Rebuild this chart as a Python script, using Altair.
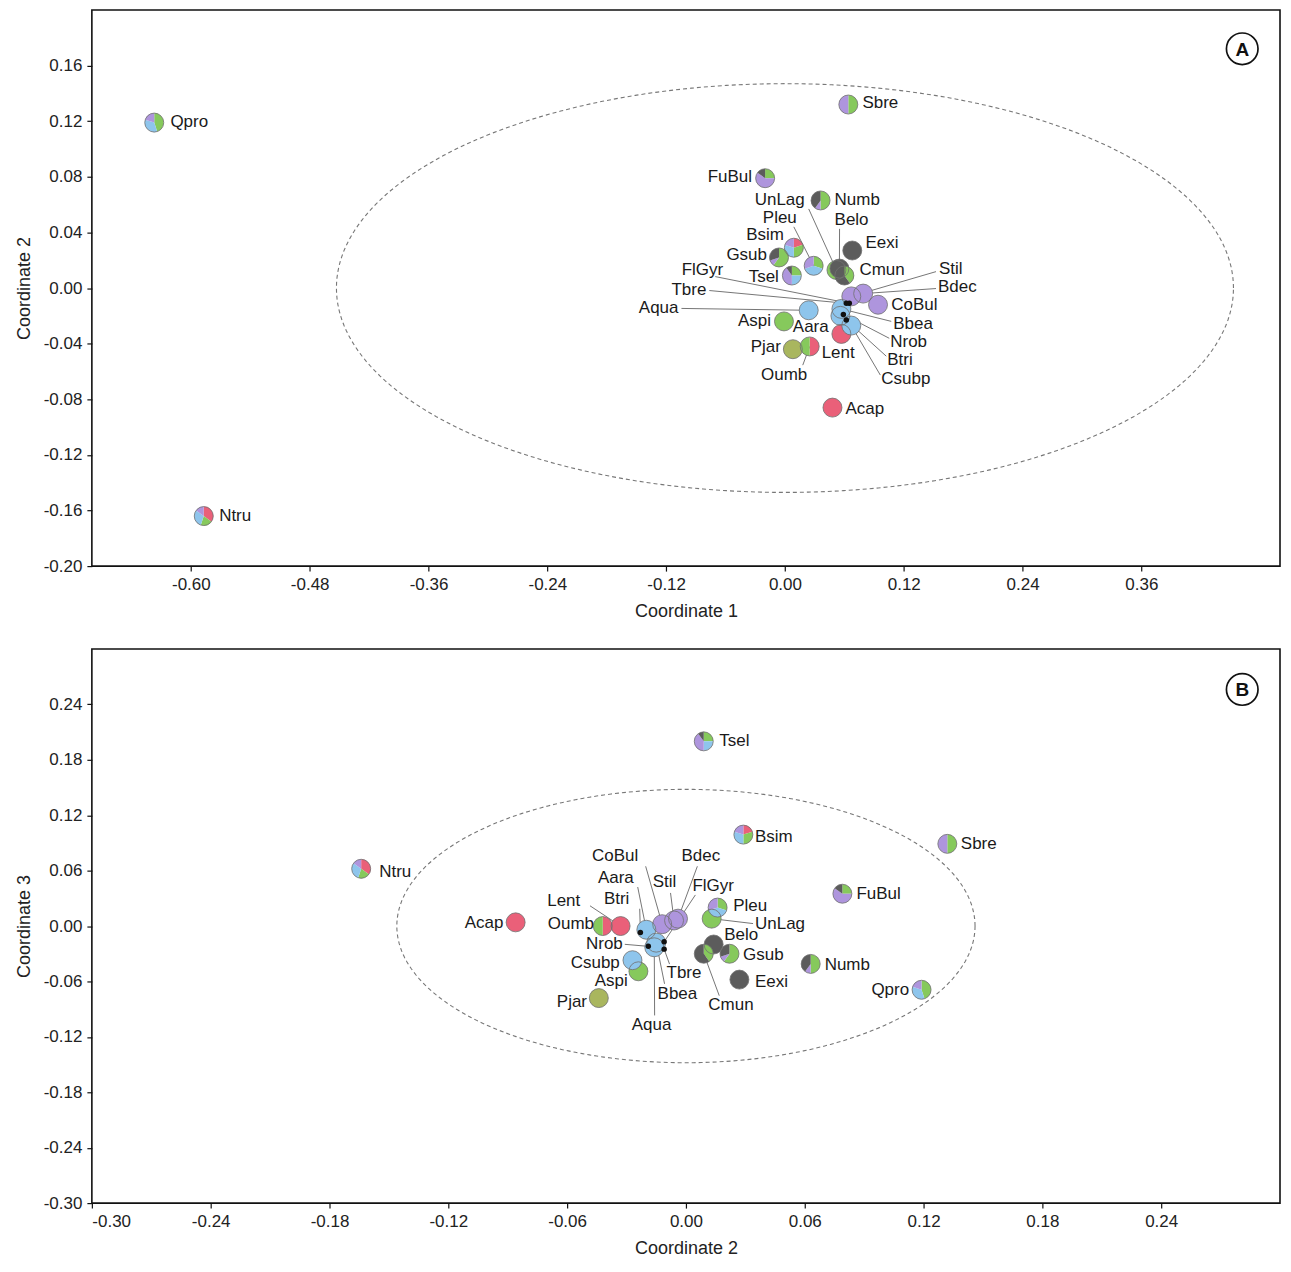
import altair as alt
import pandas as pd
import numpy as np

# ---------------- data ----------------
SPECIES = ["Qpro", "Ntru", "Sbre", "FuBul", "Numb", "UnLag", "Pleu", "Belo", "Bsim", "Eexi",
           "Gsub", "Cmun", "FlGyr", "Tsel", "Stil", "Bdec", "Tbre", "CoBul", "Aqua", "Aspi",
           "Bbea", "Aara", "Nrob", "Pjar", "Lent", "Btri", "Oumb", "Csubp", "Acap"]
COORD1 = [-0.637, -0.587, 0.064, -0.020, 0.036, 0.052, 0.029, 0.055, 0.009, 0.068,
          -0.006, 0.060, 0.065, 0.007, 0.067, 0.079, 0.062, 0.094, 0.024, -0.001,
          0.057, 0.056, 0.059, 0.008, 0.057, 0.062, 0.025, 0.067, 0.048]
COORD2 = [0.119, -0.164, 0.132, 0.079, 0.063, 0.013, 0.016, 0.014, 0.029, 0.027,
          0.022, 0.009, -0.011, 0.009, -0.006, -0.004, -0.011, -0.012, -0.016, -0.024,
          -0.015, -0.020, -0.019, -0.044, -0.033, -0.023, -0.042, -0.027, -0.086]
COORD3 = [-0.069, 0.062, 0.089, 0.035, -0.041, 0.008, 0.020, -0.020, 0.099, -0.058,
          -0.030, -0.030, -0.017, 0.200, 0.006, 0.008, -0.025, 0.002, -0.023, -0.049,
          -0.018, -0.004, -0.022, -0.078, 0.000, -0.007, 0.000, -0.037, 0.004]

GROUPS = ["g1", "g2", "g3", "g4", "g5", "g6"]
GROUP_COLORS = ["#ea6079", "#86c95c", "#8ec5ec", "#ae95dd", "#5c5c5c", "#a9b65e"]
COMPOSITION = {
    "Qpro": [0, .45, .35, .20, 0, 0], "Ntru": [.35, .20, .30, .15, 0, 0],
    "Sbre": [0, .50, 0, .50, 0, 0], "FuBul": [0, .25, 0, .60, .15, 0],
    "Numb": [0, .50, 0, .10, .40, 0], "UnLag": [0, 1, 0, 0, 0, 0],
    "Pleu": [0, .30, .40, .30, 0, 0], "Belo": [0, 0, 0, 0, 1, 0],
    "Bsim": [.20, .30, .30, .20, 0, 0], "Eexi": [0, 0, 0, 0, 1, 0],
    "Gsub": [0, .60, 0, .10, .30, 0], "Cmun": [0, .40, 0, 0, .60, 0],
    "FlGyr": [0, 0, 1, 0, 0, 0], "Tsel": [0, .25, .25, .40, .10, 0],
    "Stil": [0, 0, 0, 1, 0, 0], "Bdec": [0, 0, 0, 1, 0, 0],
    "Tbre": [0, 0, 1, 0, 0, 0], "CoBul": [0, 0, 0, 1, 0, 0],
    "Aqua": [0, 0, 1, 0, 0, 0], "Aspi": [0, 1, 0, 0, 0, 0],
    "Bbea": [0, 0, 1, 0, 0, 0], "Aara": [0, 0, 1, 0, 0, 0],
    "Nrob": [0, 0, 1, 0, 0, 0], "Pjar": [0, 0, 0, 0, 0, 1],
    "Lent": [1, 0, 0, 0, 0, 0], "Btri": [0, 0, 1, 0, 0, 0],
    "Oumb": [.50, .50, 0, 0, 0, 0], "Csubp": [0, 0, 1, 0, 0, 0],
    "Acap": [1, 0, 0, 0, 0, 0],
}
DOT_SPECIES = ["FlGyr", "Tbre", "Nrob", "Btri"]

# 95% ellipses: (centre x, centre y, semi-axis x, semi-axis y)
ELLIPSE_A = (0.0, 0.0, 0.453, 0.147)
ELLIPSE_B = (0.0, 0.0, 0.146, 0.148)

A_XTICKS = [-0.60, -0.48, -0.36, -0.24, -0.12, 0.00, 0.12, 0.24, 0.36]
A_YTICKS = [-0.20, -0.16, -0.12, -0.08, -0.04, 0.00, 0.04, 0.08, 0.12, 0.16]
B_XTICKS = [-0.30, -0.24, -0.18, -0.12, -0.06, 0.00, 0.06, 0.12, 0.18, 0.24]
B_YTICKS = [-0.30, -0.24, -0.18, -0.12, -0.06, 0.00, 0.06, 0.12, 0.18, 0.24]

# ---------------- layout ----------------
W = 1190
HA = 557
HB = 555
A_DOM_X, A_DOM_Y = [-0.70, 0.50], [-0.20, 0.20]
B_DOM_X, B_DOM_Y = [-0.30, 0.30], [-0.30, 0.30]
FONT = "Liberation Sans"

# label placement, given in reference-figure pixels: x, y, align, leader start (or None)
REF_W = 1195
A_REF = (91, 9, 559)     # left, top, height of panel A frame in the reference figure
B_REF = (91, 653, 561)
LABELS_A = {
    "Qpro": (170, 122, "left", None), "Ntru": (219, 518, "left", None),
    "Sbre": (866, 103, "left", None), "FuBul": (755, 177, "right", None),
    "Numb": (838, 200, "left", None), "UnLag": (808, 200, "right", (812, 209)),
    "Pleu": (800, 218, "right", (797, 227)), "Belo": (838, 220, "left", (843, 229)),
    "Bsim": (787, 235, "right", None), "Eexi": (869, 243, "left", None),
    "Gsub": (770, 255, "right", None), "Cmun": (863, 270, "left", None),
    "FlGyr": (726, 270, "right", (718, 277)), "Tsel": (782, 277, "right", None),
    "Stil": (943, 269, "left", (940, 272)), "Bdec": (942, 287, "left", (940, 289)),
    "Tbre": (709, 290, "right", (712, 291)), "CoBul": (895, 306, "left", None),
    "Aqua": (681, 309, "right", (684, 309)), "Aspi": (774, 322, "right", None),
    "Bbea": (897, 325, "left", (895, 322)), "Aara": (796, 328, "left", None),
    "Nrob": (894, 343, "left", (893, 339)), "Pjar": (784, 348, "right", None),
    "Lent": (825, 354, "left", None), "Btri": (891, 361, "left", (890, 357)),
    "Oumb": (764, 376, "left", (806, 366)), "Csubp": (885, 380, "left", (884, 376)),
    "Acap": (849, 410, "left", None),
}
LABELS_B = {
    "Tsel": (722, 746, "left", None), "Bsim": (758, 843, "left", None),
    "Sbre": (965, 850, "left", None), "Ntru": (380, 879, "left", None),
    "FuBul": (860, 901, "left", None),
    "CoBul": (594, 863, "left", (648, 873)), "Bdec": (684, 863, "left", (700, 873)),
    "Aara": (600, 885, "left", (640, 894)), "Stil": (655, 889, "left", (673, 900)),
    "FlGyr": (695, 893, "left", (698, 902)), "Lent": (549, 908, "left", (592, 913)),
    "Btri": (606, 906, "left", (642, 916)), "Pleu": (736, 913, "left", None),
    "Acap": (505, 930, "right", None), "Oumb": (596, 931, "right", None),
    "UnLag": (758, 931, "left", (756, 931)), "Belo": (727, 943, "left", None),
    "Nrob": (625, 952, "right", (627, 952)), "Gsub": (746, 963, "left", None),
    "Csubp": (622, 971, "right", None), "Numb": (828, 973, "left", None),
    "Tbre": (669, 981, "left", (672, 972)), "Aspi": (630, 989, "right", None),
    "Eexi": (758, 990, "left", None), "Qpro": (913, 998, "right", None),
    "Bbea": (660, 1002, "left", (667, 992)), "Pjar": (589, 1010, "right", None),
    "Cmun": (711, 1013, "left", (722, 1004)), "Aqua": (634, 1034, "left", (657, 1024)),
}
LETTER_A = (1248, 48)
LETTER_B = (1248, 694)


def to_data(px, py, ref, domx, domy):
    x = domx[0] + (px - ref[0]) / REF_W * (domx[1] - domx[0])
    y = domy[1] - (py - ref[1]) / ref[2] * (domy[1] - domy[0])
    return x, y


pts = pd.DataFrame({"sp": SPECIES, "c1": COORD1, "c2": COORD2, "c3": COORD3})

pie_rows = []
for i, sp in enumerate(SPECIES):
    if sp in DOT_SPECIES:
        continue
    for k, f in enumerate(COMPOSITION[sp]):
        if f > 0:
            pie_rows.append({"sp": sp, "idx": i, "grp": GROUPS[k], "k": k, "frac": f,
                             "c1": COORD1[i], "c2": COORD2[i], "c3": COORD3[i]})
pies = pd.DataFrame(pie_rows)
pie_pts = pts[~pts.sp.isin(DOT_SPECIES)]
dot_pts = pts[pts.sp.isin(DOT_SPECIES)]


def label_frames(labels, ref, domx, domy, xcol, ycol):
    lab, lead = [], []
    lookup = pts.set_index("sp")
    for sp, (px, py, al, ls) in labels.items():
        lx, ly = to_data(px, py, ref, domx, domy)
        lab.append({"sp": sp, "lx": lx, "ly": ly, "al": al})
        if ls is not None:
            sx, sy = to_data(ls[0], ls[1], ref, domx, domy)
            lead.append({"sp": sp, "sx": sx, "sy": sy,
                         "ex": lookup.loc[sp, xcol], "ey": lookup.loc[sp, ycol]})
    return pd.DataFrame(lab), pd.DataFrame(lead)


def ellipse_df(e):
    t = np.linspace(0, 2 * np.pi, 241)
    return pd.DataFrame({"ex": e[0] + e[2] * np.cos(t), "ey": e[1] + e[3] * np.sin(t),
                         "o": np.arange(len(t))})


LABEL_EXPR = "replace(format(datum.value, '.2f'), '\u2212', '-')"


def panel(xcol, ycol, domx, domy, h, xticks, yticks, xtitle, ytitle, ell, labels,
          ref, letter_px, letter):
    xs = alt.Scale(domain=domx, nice=False, zero=False)
    ys = alt.Scale(domain=domy, nice=False, zero=False)
    xaxis = alt.Axis(values=xticks, labelExpr=LABEL_EXPR, title=xtitle, grid=False)
    yaxis = alt.Axis(values=yticks, labelExpr=LABEL_EXPR, title=ytitle, grid=False)

    def X(f):
        return alt.X(f, scale=xs, axis=xaxis)

    def Y(f):
        return alt.Y(f, scale=ys, axis=yaxis)

    ell_layer = alt.Chart(ellipse_df(ell)).mark_line(
        color="#777777", strokeDash=[4, 3], strokeWidth=1.1
    ).encode(x=X("ex:Q"), y=Y("ey:Q"), order="o:Q")

    lab, lead = label_frames(labels, ref, domx, domy, xcol, ycol)
    lead_layer = alt.Chart(lead).mark_rule(color="#666666", strokeWidth=0.9).encode(
        x=X("sx:Q"), y=Y("sy:Q"), x2="ex:Q", y2="ey:Q",
    )

    pie_layer = alt.Chart(pies).transform_joinaggregate(
        total="sum(frac)", groupby=["sp"]
    ).transform_window(
        cum="sum(frac)", groupby=["sp"], sort=[alt.SortField("k")], frame=[None, 0]
    ).transform_calculate(
        t0="(datum.cum - datum.frac) / datum.total * 2 * PI",
        t1="datum.cum / datum.total * 2 * PI",
    ).mark_arc(outerRadius=9.5, innerRadius=0).encode(
        x=X(f"{xcol}:Q"), y=Y(f"{ycol}:Q"),
        theta=alt.Theta("t0:Q", scale=None, stack=None),
        theta2="t1:Q",
        color=alt.Color("grp:N", scale=alt.Scale(domain=GROUPS, range=GROUP_COLORS), legend=None),
        order=alt.Order("idx:Q"),
    )

    outline_layer = alt.Chart(pie_pts).mark_point(
        shape="circle", size=361, filled=False, stroke="#707070", strokeWidth=0.8, opacity=1
    ).encode(x=X(f"{xcol}:Q"), y=Y(f"{ycol}:Q"))

    dot_layer = alt.Chart(dot_pts).mark_circle(size=30, color="#111111", opacity=1).encode(
        x=X(f"{xcol}:Q"), y=Y(f"{ycol}:Q"))

    text_layers = []
    for al in ["left", "right"]:
        sub = lab[lab.al == al]
        text_layers.append(
            alt.Chart(sub).mark_text(
                align=al, baseline="middle", font=FONT, fontSize=17, color="#1a1a1a"
            ).encode(x=X("lx:Q"), y=Y("ly:Q"), text="sp:N")
        )

    lx, ly = to_data(letter_px[0], letter_px[1], ref, domx, domy)
    let_df = pd.DataFrame({"lx": [lx], "ly": [ly], "t": [letter]})
    let_circle = alt.Chart(let_df).mark_point(
        shape="circle", size=1000, filled=False, stroke="#111111", strokeWidth=1.7, opacity=1
    ).encode(x=X("lx:Q"), y=Y("ly:Q"))
    let_text = alt.Chart(let_df).mark_text(
        font=FONT, fontSize=19, fontWeight="bold", color="#111111", baseline="middle", dy=1
    ).encode(x=X("lx:Q"), y=Y("ly:Q"), text="t:N")

    return alt.layer(ell_layer, lead_layer, pie_layer, outline_layer, dot_layer,
                     *text_layers, let_circle, let_text).properties(width=W, height=h)


pA = panel("c1", "c2", A_DOM_X, A_DOM_Y, HA, A_XTICKS, A_YTICKS, "Coordinate 1", "Coordinate 2",
           ELLIPSE_A, LABELS_A, A_REF, LETTER_A, "A")
pB = panel("c2", "c3", B_DOM_X, B_DOM_Y, HB, B_XTICKS, B_YTICKS, "Coordinate 2", "Coordinate 3",
           ELLIPSE_B, LABELS_B, B_REF, LETTER_B, "B")

chart = alt.vconcat(pA, pB, spacing=27).configure_view(
    stroke="#111111", strokeWidth=1.6
).configure_axis(
    domain=False, tickColor="#111111", tickSize=5, tickWidth=1.2,
    labelFont=FONT, labelFontSize=17, labelColor="#222222", labelPadding=5,
    titleFont=FONT, titleFontSize=18, titleFontWeight="normal", titleColor="#222222",
    titlePadding=10,
).properties(padding={"left": 6, "top": 0, "right": 2, "bottom": 0})

chart.save("out.html", embed_options={"renderer": "svg", "actions": False})
